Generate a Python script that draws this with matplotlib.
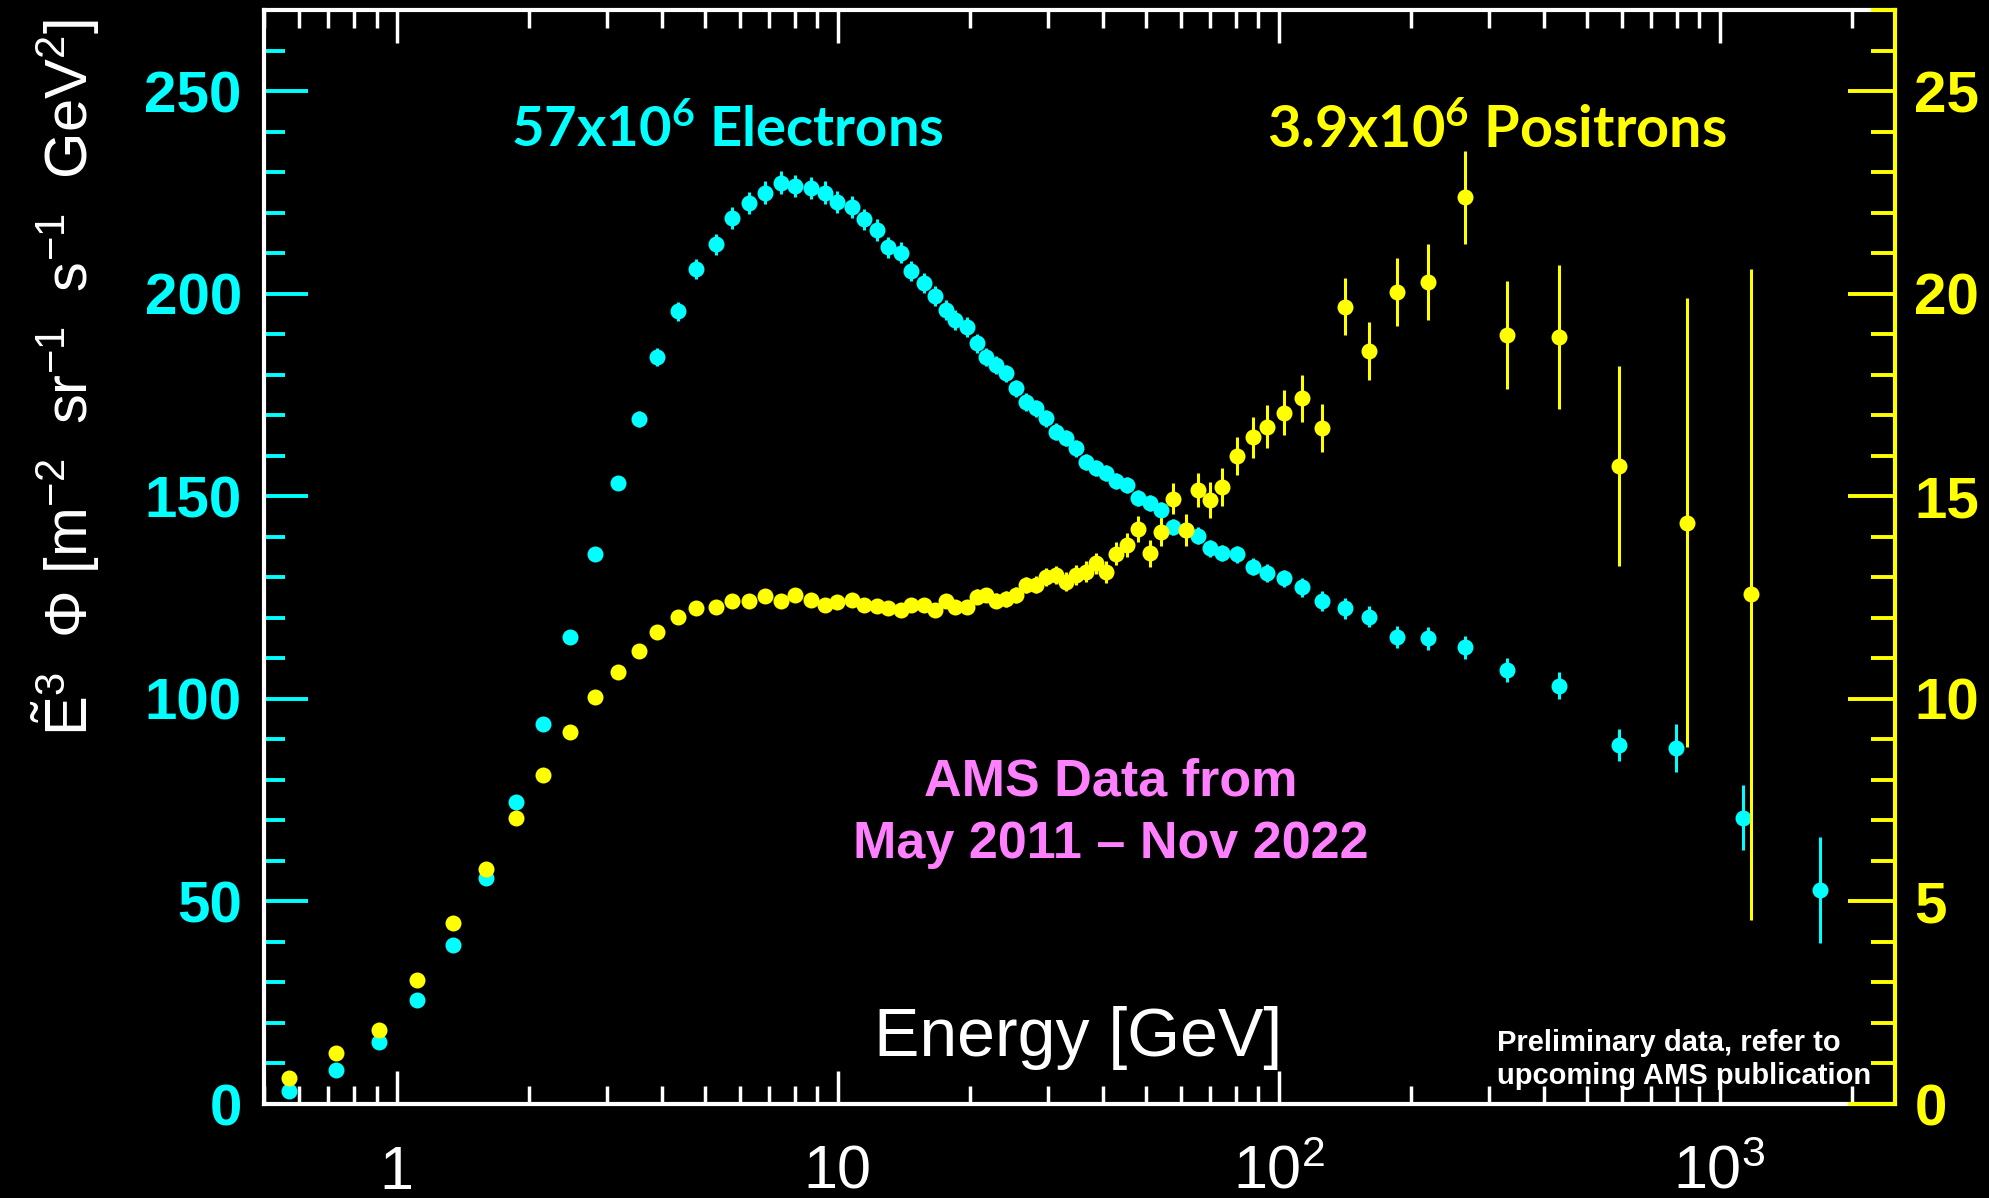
import matplotlib
matplotlib.use('Agg')
import matplotlib.pyplot as plt
from matplotlib.ticker import MultipleLocator, LogLocator, NullFormatter

# electrons: bin energy [GeV], E^3 flux (left axis), error
e_energy = [0.57, 0.73, 0.91, 1.11, 1.34, 1.59, 1.86, 2.15, 2.47, 2.82,
            3.17, 3.55, 3.90, 4.34, 4.76, 5.29, 5.75, 6.31, 6.85, 7.43,
            8.02, 8.72, 9.37, 9.99, 10.77, 11.47, 12.3, 13.0, 13.9, 14.7,
            15.7, 16.6, 17.6, 18.5, 19.6, 20.7, 21.7, 22.9, 24.1, 25.4,
            26.8, 28.2, 29.7, 31.3, 33.0, 34.7, 36.6, 38.5, 40.5, 42.8,
            45.2, 48.0, 51.1, 54.1, 57.6, 61.5, 65.6, 69.9, 74.6, 80.4,
            87.3, 94.0, 103.1, 113.0, 125.2, 141.7, 160.1, 185.9, 218.3, 264.0,
            330.4, 432.0, 592.6, 795.6, 1131, 1687]
e_flux = [3.2, 8.3, 15.2, 25.7, 39.2, 55.9, 74.5, 93.9, 115.3, 135.7,
          153.2, 169.0, 184.4, 195.6, 206.0, 212.2, 218.7, 222.3, 224.9, 227.4,
          226.6, 226.1, 224.9, 222.7, 221.3, 218.3, 215.7, 211.4, 210.1, 205.6,
          202.7, 199.4, 196.0, 193.5, 191.8, 187.7, 184.4, 182.4, 180.3, 176.6,
          173.3, 171.7, 169.2, 165.9, 164.3, 161.8, 158.5, 156.9, 155.8, 153.8,
          152.8, 149.5, 148.4, 146.5, 142.5, 141.7, 140.3, 137.1, 135.9, 135.7,
          132.6, 131.0, 129.7, 127.5, 124.1, 122.3, 120.3, 115.3, 114.9, 112.7,
          107.1, 103.2, 88.6, 87.9, 70.7, 52.8]
e_err = [0.3, 0.3, 0.4, 0.5, 0.6, 0.7, 0.8, 1.0, 1.2, 1.4,
         1.6, 2.0, 2.2, 2.4, 2.5, 2.6, 2.7, 2.7, 2.8, 2.8,
         2.8, 2.8, 2.8, 2.7, 2.7, 2.7, 2.6, 2.6, 2.6, 2.5,
         2.5, 2.5, 2.4, 2.4, 2.4, 2.3, 2.3, 2.3, 2.2, 2.2,
         2.2, 2.1, 2.1, 2.1, 2.0, 2.0, 2.0, 2.0, 2.0, 2.0,
         2.0, 2.0, 2.0, 2.0, 2.0, 2.0, 2.0, 2.0, 2.0, 2.1,
         2.1, 2.2, 2.2, 2.3, 2.4, 2.5, 2.6, 2.7, 2.8, 2.9,
         3.0, 3.3, 4.0, 6.0, 8.0, 13.0]

# positrons: bin energy [GeV], E^3 flux (right axis), error
p_energy = [0.57, 0.73, 0.91, 1.11, 1.34, 1.59, 1.86, 2.15, 2.47, 2.82,
            3.17, 3.55, 3.90, 4.34, 4.76, 5.29, 5.75, 6.31, 6.85, 7.43,
            8.02, 8.72, 9.37, 9.99, 10.77, 11.47, 12.3, 13.0, 13.9, 14.7,
            15.7, 16.6, 17.6, 18.5, 19.6, 20.7, 21.7, 22.9, 24.1, 25.4,
            26.8, 28.2, 29.7, 31.3, 33.0, 34.7, 36.6, 38.5, 40.5, 42.8,
            45.2, 48.0, 51.1, 54.1, 57.6, 61.5, 65.6, 69.9, 74.6, 80.4,
            87.3, 94.0, 103.1, 113.0, 125.2, 141.7, 160.1, 185.9, 218.3, 264.0,
            330.4, 432.0, 592.6, 842.6, 1181]
p_flux = [0.63, 1.27, 1.83, 3.06, 4.46, 5.80, 7.05, 8.11, 9.17, 10.04,
          10.65, 11.18, 11.65, 12.01, 12.23, 12.27, 12.41, 12.41, 12.53, 12.41,
          12.57, 12.44, 12.32, 12.40, 12.44, 12.31, 12.29, 12.25, 12.19, 12.31,
          12.31, 12.19, 12.42, 12.27, 12.26, 12.52, 12.56, 12.42, 12.46, 12.56,
          12.81, 12.81, 13.01, 13.06, 12.89, 13.06, 13.14, 13.34, 13.14, 13.58,
          13.80, 14.20, 13.59, 14.12, 14.94, 14.17, 15.15, 14.91, 15.23, 15.99,
          16.45, 16.72, 17.06, 17.42, 16.68, 19.68, 18.59, 20.04, 20.29, 22.38,
          18.98, 18.93, 15.75, 14.35, 12.58]
p_err = [0.03, 0.04, 0.05, 0.06, 0.07, 0.08, 0.09, 0.10, 0.10, 0.10,
         0.10, 0.10, 0.11, 0.11, 0.11, 0.11, 0.12, 0.12, 0.12, 0.12,
         0.12, 0.12, 0.13, 0.13, 0.13, 0.13, 0.14, 0.14, 0.14, 0.15,
         0.15, 0.16, 0.16, 0.17, 0.17, 0.18, 0.18, 0.19, 0.19, 0.20,
         0.20, 0.21, 0.22, 0.23, 0.23, 0.24, 0.25, 0.26, 0.27, 0.28,
         0.30, 0.32, 0.33, 0.35, 0.38, 0.40, 0.42, 0.44, 0.46, 0.47,
         0.50, 0.53, 0.56, 0.58, 0.60, 0.71, 0.72, 0.84, 0.94, 1.15,
         1.34, 1.78, 2.47, 5.55, 8.03]

x_ticks = [1, 10, 100, 1000]
x_tick_labels = ['1', '10', r'$10^{2}$', r'$10^{3}$']
left_ticks = [0, 50, 100, 150, 200, 250]
right_ticks = [0, 5, 10, 15, 20, 25]

W, H = 1990, 1198
CYAN = '#00FFFF'
YELLOW = '#FFFF00'
PINK = '#FF80FF'

plt.rcParams['font.family'] = ['Liberation Sans', 'DejaVu Sans']
plt.rcParams['mathtext.fontset'] = 'custom'
plt.rcParams['mathtext.rm'] = 'Liberation Sans'
plt.rcParams['mathtext.it'] = 'Liberation Sans:italic'
plt.rcParams['mathtext.bf'] = 'Lato:bold'


def fx(px):
    return px / W


def fy(py):
    return 1 - py / H


fig = plt.figure(figsize=(W / 100, H / 100), dpi=100, facecolor='black')
ax = fig.add_axes([fx(264), fy(1104), fx(1895) - fx(264), fy(10) - fy(1104)])
ax.set_facecolor('black')
ax2 = ax.twinx()

# data
ax.errorbar(e_energy, e_flux, yerr=e_err, fmt='o', color=CYAN, ms=11.5, mew=0,
            elinewidth=2.2, capsize=2.8, capthick=2.2)
ax2.errorbar(p_energy, p_flux, yerr=p_err, fmt='o', color=YELLOW, ms=11.5, mew=0,
             elinewidth=2.2, capsize=2.8, capthick=2.2)

# x axis
ax.set_xscale('log')
ax.set_xlim(0.5, 2500)
ax.set_xticks(x_ticks, labels=x_tick_labels, va='baseline')
ax.xaxis.set_minor_locator(LogLocator(base=10, subs=[2, 3, 4, 5, 6, 7, 8, 9], numticks=50))
ax.xaxis.set_minor_formatter(NullFormatter())
ax.tick_params(axis='x', which='both', direction='in', top=True, bottom=True,
               colors='white', width=2.5)
ax.tick_params(axis='x', which='major', length=24, pad=61, labelsize=44)
ax.tick_params(axis='x', which='minor', length=13)

# left axis (electrons)
ax.set_ylim(0, 270)
ax.set_yticks(left_ticks, labels=[str(t) for t in left_ticks], fontweight='bold')
ax.yaxis.set_minor_locator(MultipleLocator(10))
ax.tick_params(axis='y', which='both', direction='in', colors=CYAN, width=2.8,
               left=True, right=False)
ax.tick_params(axis='y', which='major', length=32, pad=16, labelsize=42)
ax.tick_params(axis='y', which='minor', length=15)

# right axis (positrons)
ax2.set_ylim(0, 27)
ax2.set_yticks(right_ticks, labels=[str(t) for t in right_ticks], fontweight='bold')
ax2.yaxis.set_minor_locator(MultipleLocator(1))
ax2.tick_params(axis='y', which='both', direction='in', colors=YELLOW, width=2.8)
ax2.tick_params(axis='y', which='major', length=34, pad=14, labelsize=42)
ax2.tick_params(axis='y', which='minor', length=17)

for s in ['left', 'top', 'bottom']:
    ax.spines[s].set_color('white')
    ax.spines[s].set_linewidth(3)
    ax2.spines[s].set_visible(False)
ax.spines['right'].set_visible(False)
ax2.spines['right'].set_color(YELLOW)
ax2.spines['right'].set_linewidth(3)

# labels and notes
fig.text(fx(66), fy(378),
         r'$\tilde{\mathrm{E}}^{3}$  $\Phi$ [m$^{-2}$  sr$^{-1}$  s$^{-1}$  GeV$^{2}$]',
         rotation=90, fontsize=43, color='white', ha='center', va='center')
fig.text(fx(1078), fy(1056), 'Energy [GeV]', fontsize=49, color='white',
         ha='center', va='baseline')

fig.text(fx(511), fy(147), r'57x10$^{\mathbf{6}}$ Electrons', color=CYAN,
         fontsize=40.5, family='Lato', fontweight='bold', ha='left', va='baseline')
fig.text(fx(1267), fy(148), r'3.9x10$^{\mathbf{6}}$ Positrons', color=YELLOW,
         fontsize=41.5, family='Lato', fontweight='bold', ha='left', va='baseline')

fig.text(fx(1111), fy(795), 'AMS Data from', color=PINK, fontsize=37.5,
         fontweight='bold', ha='center', va='baseline')
fig.text(fx(1111), fy(858), 'May 2011 \u2013 Nov 2022', color=PINK, fontsize=37.5,
         fontweight='bold', ha='center', va='baseline')

fig.text(fx(1497), fy(1051), 'Preliminary data, refer to', color='white',
         fontsize=21, fontweight='bold', ha='left', va='baseline')
fig.text(fx(1497), fy(1084), 'upcoming AMS publication', color='white',
         fontsize=21, fontweight='bold', ha='left', va='baseline')

fig.savefig('out.png', dpi=100, facecolor='black')
